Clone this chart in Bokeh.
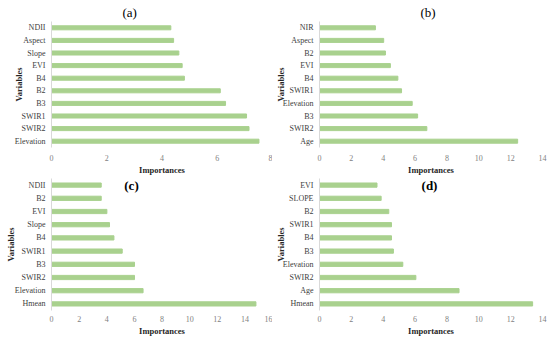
from bokeh.plotting import figure
from bokeh.models import FactorRange, Range1d, FixedTicker, Label
from bokeh.layouts import column, row
from bokeh.embed import file_html
from bokeh.resources import INLINE

# ---- data (listed bottom -> top, as drawn) ----
vars_a = ["Elevation", "SWIR2", "SWIR1", "B3", "B2", "B4", "EVI", "Slope", "Aspect", "NDII"]
imp_a = [7.51, 7.15, 7.06, 6.30, 6.11, 4.81, 4.73, 4.61, 4.42, 4.32]

vars_b = ["Age", "SWIR2", "B3", "Elevation", "SWIR1", "B4", "EVI", "B2", "Aspect", "NIR"]
imp_b = [12.44, 6.74, 6.16, 5.82, 5.15, 4.92, 4.45, 4.14, 4.03, 3.51]

vars_c = ["Hmean", "Elevation", "SWIR2", "B3", "SWIR1", "B4", "Slope", "EVI", "B2", "NDII"]
imp_c = [14.80, 6.63, 6.01, 6.01, 5.12, 4.52, 4.20, 4.01, 3.60, 3.60]

vars_d = ["Hmean", "Age", "SWIR2", "Elevation", "B3", "B4", "SWIR1", "B2", "SLOPE", "EVI"]
imp_d = [13.38, 8.76, 6.05, 5.23, 4.64, 4.52, 4.52, 4.35, 3.87, 3.61]

titles = ["(a)", "(b)", "(c)", "(d)"]
xmax = [8, 14, 16, 14]

BAR = "#a9d18e"
FONT = "Liberation Serif"


def panel(cats, vals, xm, title, width, height, mbl, mbr, mbt, mbb,
          ystand, xstand, tx, ty, tbold, title_on_top):
    p = figure(width=width, height=height,
               y_range=FactorRange(factors=cats),
               x_range=Range1d(0, xm),
               output_backend="svg", toolbar_location=None,
               min_border_left=mbl, min_border_right=mbr,
               min_border_top=mbt, min_border_bottom=mbb)
    p.hbar(y=cats, right=vals, left=0, height=0.32, color=BAR)
    p.xgrid.visible = False
    p.ygrid.visible = False
    p.outline_line_color = None
    p.background_fill_color = "white"
    p.border_fill_color = "white"

    xa = p.xaxis[0]
    xa.ticker = FixedTicker(ticks=list(range(0, xm + 1, 2)))
    xa.axis_line_color = None
    xa.major_tick_line_color = None
    xa.minor_tick_line_color = None
    xa.major_tick_out = 0
    xa.major_tick_in = 0
    xa.minor_tick_out = 0
    xa.major_label_text_font = FONT
    xa.major_label_text_font_size = "8px"
    xa.major_label_text_color = "#7f7f7f"
    xa.major_label_standoff = xstand
    xa.axis_label = "Importances"
    xa.axis_label_text_font = FONT
    xa.axis_label_text_font_style = "bold"
    xa.axis_label_text_font_size = "8.5px"
    xa.axis_label_text_color = "#262626"
    xa.axis_label_standoff = 1

    ya = p.yaxis[0]
    ya.axis_line_color = "#d9d9d9"
    ya.major_tick_line_color = None
    ya.minor_tick_line_color = None
    ya.major_tick_out = 0
    ya.major_tick_in = 0
    ya.major_label_text_font = FONT
    ya.major_label_text_font_size = "8px"
    ya.major_label_text_color = "#404040"
    ya.major_label_standoff = 6
    ya.axis_label = "Variables"
    ya.axis_label_text_font = FONT
    ya.axis_label_text_font_style = "bold"
    ya.axis_label_text_font_size = "8.5px"
    ya.axis_label_text_color = "#262626"
    ya.axis_label_standoff = ystand

    if title_on_top:
        p.title.text = title
        p.title.align = "left"
        p.title.offset = tx
        p.title.standoff = ty
        p.title.text_font = FONT
        p.title.text_font_size = "13px"
        p.title.text_font_style = "normal"
        p.title.text_color = "black"
    else:
        p.add_layout(Label(x=tx, y=ty, x_units="screen", y_units="screen",
                           text=title, text_align="center", text_baseline="middle",
                           text_font=FONT, text_font_size="13px",
                           text_font_style="bold" if tbold else "normal",
                           text_color="black"))
    return p


pa = panel(vars_a, imp_a, xmax[0], titles[0], 272, 177, 51, 0, 21, 27, -12, 7, 71, 4, False, True)
pb = panel(vars_b, imp_b, xmax[1], titles[1], 278, 177, 47, 8, 21, 27, -6, 7, 101, 4, False, True)
pc = panel(vars_c, imp_c, xmax[2], titles[2], 272, 162, 51, 0, 1, 29, -4, 5, 80, 125, True, False)
pd = panel(vars_d, imp_d, xmax[3], titles[3], 278, 162, 47, 8, 1, 29, -6, 5, 110, 125, True, False)

layout = column(row(pa, pb, spacing=0), row(pc, pd, spacing=0), spacing=0)

open("out.html", "w").write(file_html(layout, INLINE))
